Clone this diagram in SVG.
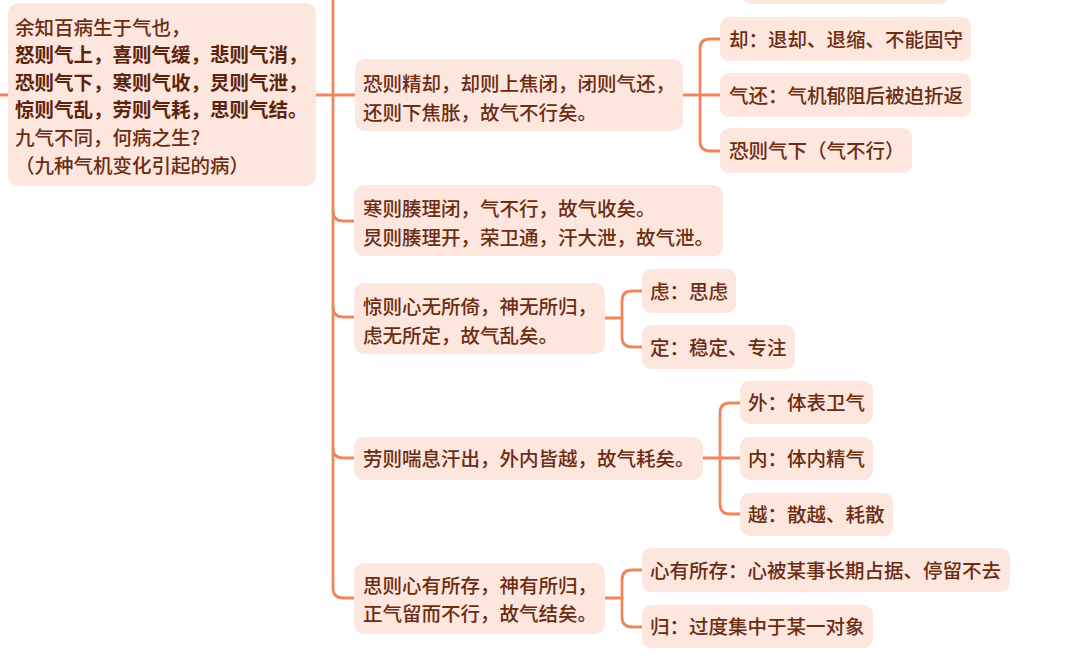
<svg xmlns="http://www.w3.org/2000/svg" width="1080" height="656" viewBox="0 0 1080 656">
<style>
.bx{fill:#fde6dd;}
.t{font-family:"Noto Sans CJK SC","Noto Sans",sans-serif;font-size:19.5px;font-weight:500;fill:#6b2c12;}
.b{font-weight:bold;fill:#5c240c;}
.ln{fill:none;stroke:#f0875c;stroke-width:2.8;stroke-linecap:round;stroke-linejoin:round;}
</style>
<rect width="1080" height="656" fill="#ffffff"/>
<g id="connectors">
<path class="ln" d="M333,-5 L333,588 Q333,598 343,598 L354,598"/>
<path class="ln" d="M-2,95 L8,95"/>
<path class="ln" d="M316,95 L355,95"/>
<path class="ln" d="M333,211 Q333,221 343,221 L354,221"/>
<path class="ln" d="M333,307 Q333,317 343,317 L354,317"/>
<path class="ln" d="M333,448 Q333,458 343,458 L354,458"/>
<path class="ln" d="M683,95 L720,95"/>
<path class="ln" d="M720,39 L710,39 Q700,39 700,49 L700,141 Q700,151 710,151 L720,151"/>
<path class="ln" d="M605,318 L622,318"/>
<path class="ln" d="M642,291 L632,291 Q622,291 622,301 L622,337 Q622,347 632,347 L642,347"/>
<path class="ln" d="M703,458 L740,458"/>
<path class="ln" d="M740,403 L730,403 Q720,403 720,413 L720,504 Q720,514 730,514 L740,514"/>
<path class="ln" d="M605,598 L622,598"/>
<path class="ln" d="M642,570 L632,570 Q622,570 622,580 L622,617 Q622,627 632,627 L642,627"/>
</g>
<g id="root">
<rect class="bx" x="8" y="3" width="308" height="183" rx="10"/>
<text class="t" x="15" y="34.5">余知百病生于气也，</text>
<text class="t b" x="15" y="62">怒则气上，喜则气缓，悲则气消，</text>
<text class="t b" x="15" y="89.5">恐则气下，寒则气收，炅则气泄，</text>
<text class="t b" x="15" y="117">惊则气乱，劳则气耗，思则气结。</text>
<text class="t" x="15" y="145">九气不同，何病之生?</text>
<text class="t" x="15" y="172.5">（九种气机变化引起的病）</text>
</g>
<g id="top-partial">
<rect class="bx" x="742" y="-40" width="207" height="44" rx="9"/>
</g>
<g id="n1">
<rect class="bx" x="355" y="59" width="328" height="72" rx="10"/>
<text class="t" x="363" y="91">恐则精却，却则上焦闭，闭则气还，</text>
<text class="t" x="363" y="120">还则下焦胀，故气不行矣。</text>
</g>
<g id="n1a">
<rect class="bx" x="720" y="17" width="251" height="44" rx="9"/>
<text class="t" x="729" y="46.5">却：退却、退缩、不能固守</text>
</g>
<g id="n1b">
<rect class="bx" x="720" y="73" width="251" height="44" rx="9"/>
<text class="t" x="729" y="102.5">气还：气机郁阻后被迫折返</text>
</g>
<g id="n1c">
<rect class="bx" x="720" y="128" width="192" height="45" rx="9"/>
<text class="t" x="729" y="158">恐则气下（气不行）</text>
</g>
<g id="n2">
<rect class="bx" x="354" y="185" width="369" height="71" rx="10"/>
<text class="t" x="363" y="216">寒则腠理闭，气不行，故气收矣。</text>
<text class="t" x="363" y="244.5">炅则腠理开，荣卫通，汗大泄，故气泄。</text>
</g>
<g id="n3">
<rect class="bx" x="354" y="283" width="251" height="71" rx="10"/>
<text class="t" x="363" y="314">惊则心无所倚，神无所归，</text>
<text class="t" x="363" y="342.5">虑无所定，故气乱矣。</text>
</g>
<g id="n3a">
<rect class="bx" x="642" y="269" width="94" height="44" rx="9"/>
<text class="t" x="650" y="298.5">虑：思虑</text>
</g>
<g id="n3b">
<rect class="bx" x="642" y="325" width="153" height="44" rx="9"/>
<text class="t" x="650" y="354.5">定：稳定、专注</text>
</g>
<g id="n4">
<rect class="bx" x="354" y="437" width="349" height="43" rx="10"/>
<text class="t" x="363" y="466">劳则喘息汗出，外内皆越，故气耗矣。</text>
</g>
<g id="n4a">
<rect class="bx" x="740" y="381" width="133" height="43" rx="9"/>
<text class="t" x="748" y="410">外：体表卫气</text>
</g>
<g id="n4b">
<rect class="bx" x="740" y="437" width="133" height="43" rx="9"/>
<text class="t" x="748" y="466">内：体内精气</text>
</g>
<g id="n4c">
<rect class="bx" x="740" y="493" width="153" height="43" rx="9"/>
<text class="t" x="748" y="522">越：散越、耗散</text>
</g>
<g id="n5">
<rect class="bx" x="354" y="563" width="251" height="71" rx="10"/>
<text class="t" x="363" y="592.5">思则心有所存，神有所归，</text>
<text class="t" x="363" y="621">正气留而不行，故气结矣。</text>
</g>
<g id="n5a">
<rect class="bx" x="642" y="548" width="368" height="44" rx="9"/>
<text class="t" x="650" y="577.5">心有所存：心被某事长期占据、停留不去</text>
</g>
<g id="n5b">
<rect class="bx" x="642" y="605" width="231" height="43" rx="9"/>
<text class="t" x="650" y="634">归：过度集中于某一对象</text>
</g>
</svg>
